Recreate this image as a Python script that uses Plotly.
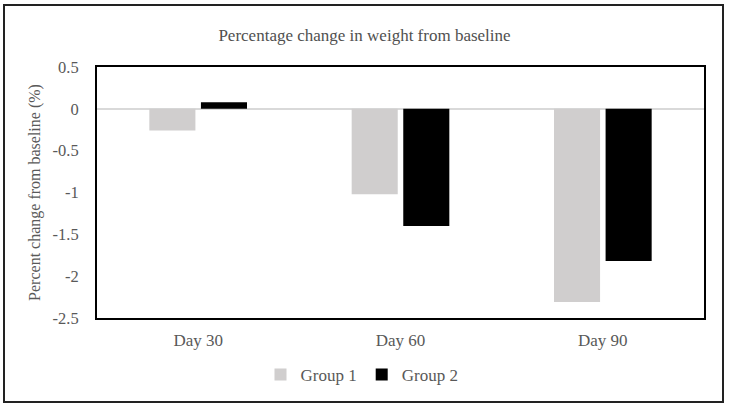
import plotly.graph_objects as go

categories = ["Day 30", "Day 60", "Day 90"]
group1 = [-0.26, -1.02, -2.31]
group2 = [0.08, -1.40, -1.82]
y_ticks = [0.5, 0, -0.5, -1, -1.5, -2, -2.5]
y_tick_labels = ["0.5", "0", "-0.5", "-1", "-1.5", "-2", "-2.5"]

FONT = "Palatino Linotype, Book Antiqua, Palatino, Liberation Serif, DejaVu Serif, serif"
TXT = "#595959"

fig = go.Figure()
fig.add_trace(go.Bar(x=categories, y=group1, name="Group 1", marker=dict(color="#d0cece", line=dict(width=0))))
fig.add_trace(go.Bar(x=categories, y=group2, name="Group 2", marker=dict(color="#000000", line=dict(width=0))))

L, R, T, B = 97, 25, 67, 91
W, H = 729, 409
pw, ph = W - L - R, H - T - B

def px_x(p):
    return (p - L) / pw

def px_y(p):
    return (H - B - p) / ph

fig.update_layout(
    width=W, height=H,
    margin=dict(l=L, r=R, t=T, b=B),
    paper_bgcolor="white", plot_bgcolor="white",
    barmode="group", bargap=0.49, bargroupgap=0.107,
    font=dict(family=FONT, color=TXT, size=17),
    title=dict(text="Percentage change in weight from baseline", x=0.5, xanchor="center",
               y=1 - 35 / H, yanchor="middle", font=dict(size=17, color="#505050", family=FONT)),
    showlegend=True,
    legend=dict(orientation="h", x=px_x(362), xanchor="center", y=px_y(375), yanchor="middle",
                font=dict(size=17, color=TXT, family=FONT), bgcolor="rgba(0,0,0,0)",
                itemwidth=30, traceorder="normal"),
    xaxis=dict(showgrid=False, showline=True, linecolor="black", linewidth=2, mirror=True,
               ticks="", ticklabelstandoff=6, tickfont=dict(size=17, color=TXT)),
    yaxis=dict(range=[-2.5, 0.5], tickvals=y_ticks, ticktext=y_tick_labels, showgrid=False,
               showline=True, linecolor="black", linewidth=2, mirror=True,
               zeroline=True, zerolinecolor="#d9d9d9", zerolinewidth=2,
               ticks="", ticklabelstandoff=13, tickfont=dict(size=16.5, color=TXT),
               title=dict(text="Percent change from baseline (%)", standoff=8,
                          font=dict(size=16, color=TXT, family=FONT))),
    shapes=[dict(type="rect", xref="paper", yref="paper",
                 x0=px_x(4), x1=px_x(723), y0=px_y(402), y1=px_y(5),
                 line=dict(color="#222222", width=2), fillcolor="rgba(0,0,0,0)", layer="below")],
)

fig.write_html("out.html", config={"displayModeBar": False},
               post_script="document.body.style.margin='0';document.body.style.overflow='hidden';")
